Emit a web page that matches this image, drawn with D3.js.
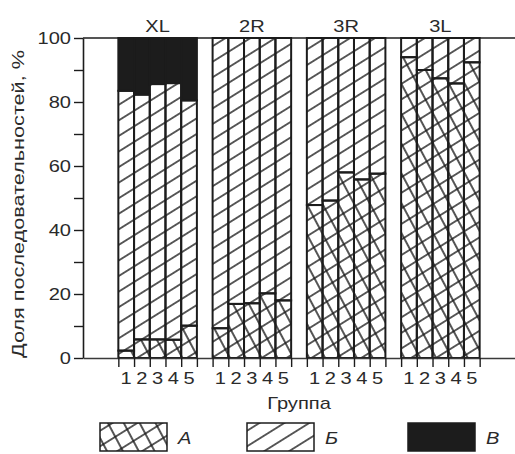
<!DOCTYPE html>
<html>
<head>
<meta charset="utf-8">
<script src="https://cdn.jsdelivr.net/npm/d3@7"></script>
<style>
  html, body { margin: 0; padding: 0; background: #fff; }
  svg { display: block; }
  text { font-family: "Liberation Sans", Arial, Helvetica, sans-serif; fill: #2a2a2a; }
</style>
</head>
<body>
<svg id="chart" width="515" height="454"></svg>
<script>
// Chromosome arms and sample groups
const groups = ["XL", "2R", "3R", "3L"];
const barLabels = ["1", "2", "3", "4", "5"];

// Share of sequences (%) per arm, groups 1..5
const shareA = [
  [2.3, 5.8, 5.8, 5.7, 10.1],
  [9.3, 16.9, 17.1, 20.2, 18.0],
  [47.8, 49.2, 58.0, 55.8, 57.6],
  [94.0, 90.0, 87.4, 85.8, 92.4]
];
const shareB = [
  [81.2, 76.5, 79.8, 80.2, 70.4],
  [90.7, 83.1, 82.9, 79.8, 82.0],
  [52.2, 50.8, 42.0, 44.2, 42.4],
  [6.0, 10.0, 12.6, 14.2, 7.6]
];
const shareV = [
  [16.5, 17.7, 14.4, 14.1, 19.5],
  [0, 0, 0, 0, 0],
  [0, 0, 0, 0, 0],
  [0, 0, 0, 0, 0]
];
const yTicks = [0, 10, 20, 30, 40, 50, 60, 70, 80, 90, 100];
const legendItems = ["А", "Б", "В"];

const svg = d3.select("#chart");
const ink = "#1c1c1c";

// Each arm takes 5 bar slots plus one empty slot
const slotsPerGroup = 6;
const rows = [];
groups.forEach((g, gi) => {
  barLabels.forEach((b, bi) => {
    rows.push({
      slot: gi * slotsPerGroup + bi,
      label: b,
      "А": shareA[gi][bi],
      "Б": shareB[gi][bi],
      "В": shareV[gi][bi]
    });
  });
});

const x = d3.scaleLinear().domain([-2.25, 25.25]).range([83, 515]);
const y = d3.scaleLinear().domain([0, 100]).range([358, 38]);

// Hatch patterns
const defs = svg.append("defs");
function hatch(id, angle, spacing, width) {
  const p = defs.append("pattern")
    .attr("id", id)
    .attr("patternUnits", "userSpaceOnUse")
    .attr("width", 40)
    .attr("height", spacing)
    .attr("patternTransform", `rotate(${angle})`);
  p.append("line")
    .attr("x1", 0).attr("x2", 40)
    .attr("y1", spacing / 2).attr("y2", spacing / 2)
    .attr("stroke", ink).attr("stroke-width", width);
}
hatch("rise", -32, 13.2, 1.4);
hatch("steep", 62, 14.0, 1.4);

const stack = d3.stack().keys(["А", "Б", "В"]);
const layers = stack(rows);

const bars = svg.append("g");
layers.forEach(layer => {
  const key = layer.key;
  const fills = key === "А" ? ["url(#rise)", "url(#steep)"]
              : key === "Б" ? ["url(#rise)"] : [ink];
  fills.forEach(f => {
    bars.append("g").selectAll("rect")
      .data(layer.filter(d => d[1] - d[0] > 0))
      .join("rect")
      .attr("x", d => x(d.data.slot))
      .attr("width", d => x(d.data.slot + 1) - x(d.data.slot))
      .attr("y", d => y(d[1]))
      .attr("height", d => y(d[0]) - y(d[1]))
      .attr("fill", f)
      .attr("stroke", "none");
  });
  bars.append("g").selectAll("rect")
    .data(layer.filter(d => d[1] - d[0] > 0))
    .join("rect")
    .attr("x", d => x(d.data.slot))
    .attr("width", d => x(d.data.slot + 1) - x(d.data.slot))
    .attr("y", d => y(d[1]))
    .attr("height", d => y(d[0]) - y(d[1]))
    .attr("fill", "none")
    .attr("stroke", ink)
    .attr("stroke-width", 2);
});

// Y axis
const yAxis = svg.append("g")
  .attr("transform", `translate(${x(-2.25)},0)`)
  .call(d3.axisLeft(y).tickValues(yTicks).tickSize(9).tickSizeOuter(0).tickPadding(3)
    .tickFormat(d => d % 20 === 0 ? d : ""));
yAxis.select(".domain").attr("stroke", ink).attr("stroke-width", 1.6);
yAxis.selectAll(".tick line").attr("stroke", ink).attr("stroke-width", 1.4);
yAxis.selectAll(".tick text").attr("font-size", 17).attr("fill", "#2a2a2a")
  .attr("font-family", null);

// Top frame line at 100 %
svg.append("line")
  .attr("x1", x(-2.25)).attr("x2", x(25.25))
  .attr("y1", y(100)).attr("y2", y(100))
  .attr("stroke", ink).attr("stroke-width", 1.6);

// X axis: ticks on bar edges
const edges = [];
groups.forEach((g, gi) => {
  for (let k = 0; k <= barLabels.length; k++) edges.push(gi * slotsPerGroup + k);
});
const xAxis = svg.append("g")
  .attr("transform", `translate(0,${y(0)})`)
  .call(d3.axisBottom(x).tickValues(edges).tickSize(9).tickSizeOuter(0).tickFormat(""));
xAxis.select(".domain").attr("stroke", "#3a3a3a").attr("stroke-width", 1.6);
xAxis.selectAll(".tick line").attr("stroke", ink).attr("stroke-width", 1.4);

// Group numbers under bars
svg.append("g").selectAll("text")
  .data(rows)
  .join("text")
  .attr("class", "wide")
  .attr("x", d => x(d.slot + 0.5))
  .attr("y", 384)
  .attr("text-anchor", "middle")
  .attr("font-size", 17)
  .text(d => d.label);

// Arm names above groups
svg.append("g").selectAll("text")
  .data(groups)
  .join("text")
  .attr("class", "wide")
  .attr("x", (d, i) => x(i * slotsPerGroup + barLabels.length / 2))
  .attr("y", 32)
  .attr("text-anchor", "middle")
  .attr("font-size", 17)
  .text(d => d);

// Axis titles
svg.append("text")
  .attr("class", "wide")
  .attr("x", (x(-2.25) + x(25.25)) / 2)
  .attr("y", 409)
  .attr("text-anchor", "middle")
  .attr("font-size", 17)
  .text("Группа");

svg.append("text")
  .attr("transform", "translate(24,204) rotate(-90)")
  .attr("text-anchor", "middle")
  .attr("font-size", 17)
  .attr("textLength", 308)
  .attr("lengthAdjust", "spacingAndGlyphs")
  .text("Доля последовательностей, %");

// Legend
const legendX = [100, 247, 408];
const legend = svg.append("g");
legendItems.forEach((name, i) => {
  const g = legend.append("g").attr("transform", `translate(${legendX[i]},423)`);
  const fills = i === 0 ? ["url(#rise)", "url(#steep)"] : i === 1 ? ["url(#rise)"] : [ink];
  fills.forEach(f => g.append("rect").attr("width", 67).attr("height", 28).attr("fill", f));
  g.append("rect").attr("width", 67).attr("height", 28)
    .attr("fill", "none").attr("stroke", ink).attr("stroke-width", 1.5);
  g.append("text")
    .attr("class", "wide")
    .attr("x", 78).attr("y", 21)
    .attr("font-size", 17)
    .attr("font-style", "italic")
    .text(name);
});

// Widen the lettering slightly
svg.selectAll("text.wide, .tick text").each(function () {
  const len = this.getComputedTextLength();
  if (len > 0) {
    d3.select(this).attr("textLength", len * 1.18).attr("lengthAdjust", "spacingAndGlyphs");
  }
});
</script>
</body>
</html>
